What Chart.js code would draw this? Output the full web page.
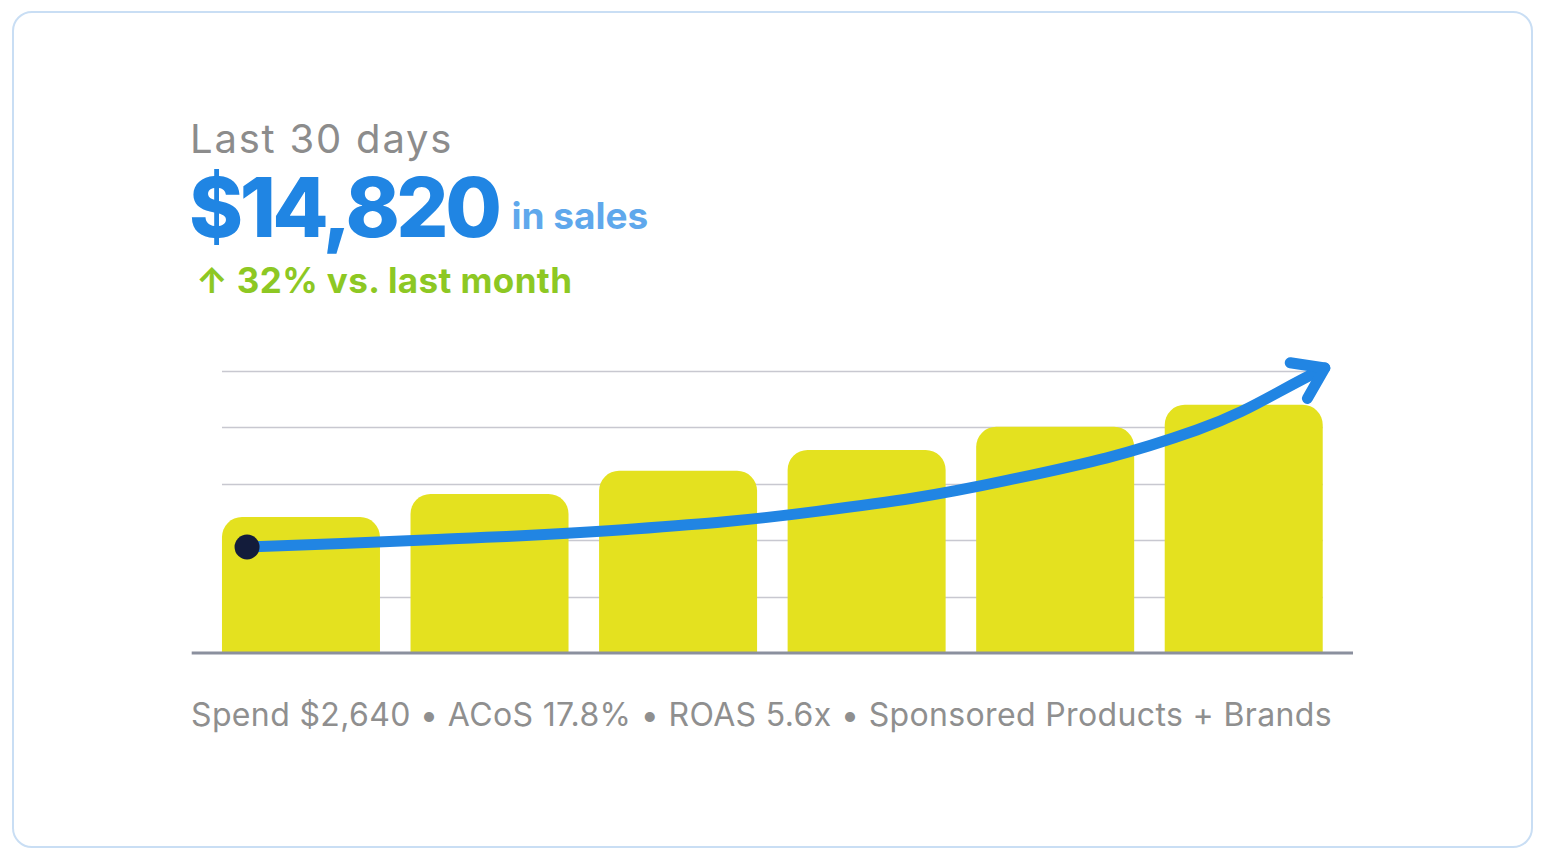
<!DOCTYPE html>
<html>
<head>
<meta charset="utf-8">
<script src="https://cdn.jsdelivr.net/npm/chart.js@4.4.1/dist/chart.umd.min.js"></script>
<style>
  html, body { margin: 0; padding: 0; background: #fff; }
  body { width: 1545px; height: 858px; position: relative; overflow: hidden; font-family: "Inter", "Noto Sans", sans-serif; }
  .card { position: absolute; left: 12px; top: 11px; width: 1517px; height: 833px; border: 2px solid #c9def4; border-radius: 20px; }
  .txt { position: absolute; line-height: 1; white-space: nowrap; }
  #period { left: 190px; top: 119px; font-size: 40px; font-weight: 400; color: #8c8c8c; letter-spacing: 1.8px; }
  #total { left: 189px; top: 167px; font-size: 82px; font-weight: 800; color: #2085e3; letter-spacing: -3.5px; }
  #total span { position: relative; top: -8px; font-size: 37px; font-weight: 700; color: #5fa8ec; letter-spacing: 0; margin-left: 13px; }
  #delta { left: 196px; top: 263px; font-size: 35px; font-weight: 700; color: #8dc823; letter-spacing: 0.4px; }
  #footer { left: 191px; top: 699px; font-size: 32px; font-weight: 400; color: #8f8f8f; letter-spacing: 0.36px; }
  .chartBox { position: absolute; left: 180px; top: 330px; width: 1200px; height: 360px; }
  #trendBox { pointer-events: none; }
</style>
</head>
<body>
<div class="card"></div>
<div class="txt" id="period">Last 30 days</div>
<div class="txt" id="total">$14,820<span>in sales</span></div>
<div class="txt" id="delta">↑ 32% vs. last month</div>
<div class="txt" id="footer">Spend $2,640 • ACoS 17.8% • ROAS 5.6x • Sponsored Products + Brands</div>
<div class="chartBox" id="barBox"><canvas id="salesChart"></canvas></div>
<div class="chartBox" id="trendBox"><canvas id="trendChart"></canvas></div>

<script>
// weekly sales bars (dollars)
const weeks = ["Week 1", "Week 2", "Week 3", "Week 4", "Week 5", "Week 6"];
const weeklySales = [2410, 2820, 3230, 3600, 4010, 4400];

// trend arrow, x in bar units (0 = centre of first bar)
const trendX = [-0.286, 0.721, 1.729, 2.736, 3.743, 4.751, 5.430];
const trendY = [1879, 2012, 2190, 2511, 3059, 3954, 5053];

const yMax = 5000;
const yStep = 1000;

// both charts share the same plot box so the arrow sits on the bars
const sharedPadding = { left: 26.7, right: 42, top: 41, bottom: 37 };

// grid lines behind the bars, only as wide as the bars
const gridPlugin = {
    id: "barGrid",
    beforeDatasetsDraw(chart) {
        const bars = chart.getDatasetMeta(0).data;
        if (!bars.length) return;
        const first = bars[0], last = bars[bars.length - 1];
        const left = first.x - first.width / 2;
        const right = last.x + last.width / 2;
        const y = chart.scales.y;
        const ctx = chart.ctx;
        ctx.save();
        ctx.strokeStyle = "#c8c8d0";
        ctx.lineWidth = 1.5;
        y.ticks.forEach(t => {
            if (t.value <= 0) return;
            const py = Math.round(y.getPixelForValue(t.value)) + 0.5;
            ctx.beginPath();
            ctx.moveTo(left, py);
            ctx.lineTo(right, py);
            ctx.stroke();
        });
        ctx.restore();
    },
    afterDatasetsDraw(chart) {
        // base line, a bit wider than the plot
        const ctx = chart.ctx;
        const area = chart.chartArea;
        const y0 = chart.scales.y.getPixelForValue(0);
        ctx.save();
        ctx.strokeStyle = "#8b909e";
        ctx.lineWidth = 3;
        ctx.beginPath();
        ctx.moveTo(area.left - 15, y0);
        ctx.lineTo(area.right + 15, y0);
        ctx.stroke();
        ctx.restore();
    }
};

// arrow head at the end of the trend line
const arrowPlugin = {
    id: "trendArrow",
    afterDatasetsDraw(chart) {
        const pts = chart.getDatasetMeta(0).data;
        if (pts.length < 2) return;
        const tip = pts[pts.length - 1];
        const prev = pts[pts.length - 2];
        let ang = Math.atan2(tip.y - prev.y, tip.x - prev.x);
        if (tip.cp1x !== undefined && (tip.cp1x !== tip.x || tip.cp1y !== tip.y)) {
            ang = Math.atan2(tip.y - tip.cp1y, tip.x - tip.cp1x);
        }
        const len = 35, spread = 0.6;
        const ctx = chart.ctx;
        ctx.save();
        ctx.strokeStyle = "#2185e3";
        ctx.lineWidth = 11;
        ctx.lineCap = "round";
        ctx.lineJoin = "round";
        ctx.beginPath();
        ctx.moveTo(tip.x - len * Math.cos(ang - spread), tip.y - len * Math.sin(ang - spread));
        ctx.lineTo(tip.x, tip.y);
        ctx.lineTo(tip.x - len * Math.cos(ang + spread), tip.y - len * Math.sin(ang + spread));
        ctx.stroke();
        ctx.restore();
    }
};

const salesChart = new Chart(document.getElementById("salesChart").getContext("2d"), {
    type: "bar",
    data: {
        labels: weeks,
        datasets: [{
            label: "Sales",
            data: weeklySales,
            backgroundColor: "#e4e11f",
            borderRadius: 20,
            borderSkipped: "bottom",
            barPercentage: 1,
            categoryPercentage: 0.838
        }]
    },
    options: {
        responsive: true,
        maintainAspectRatio: false,
        animation: false,
        layout: { padding: sharedPadding },
        plugins: {
            legend: { display: false },
            tooltip: { enabled: false }
        },
        scales: {
            x: { display: false },
            y: { display: false, min: 0, max: yMax, ticks: { stepSize: yStep } }
        }
    },
    plugins: [gridPlugin]
});

const trendChart = new Chart(document.getElementById("trendChart").getContext("2d"), {
    type: "line",
    data: {
        datasets: [{
            label: "Trend",
            data: trendX.map((x, i) => ({ x: x, y: trendY[i] })),
            borderColor: "#2185e3",
            borderWidth: 11,
            borderCapStyle: "round",
            tension: 0.4,
            pointRadius: c => c.dataIndex === 0 ? 12.5 : 0,
            pointHoverRadius: c => c.dataIndex === 0 ? 12.5 : 0,
            pointBackgroundColor: "#131c3b",
            pointBorderWidth: 0,
            clip: false
        }]
    },
    options: {
        responsive: true,
        maintainAspectRatio: false,
        animation: false,
        events: [],
        layout: { padding: sharedPadding },
        plugins: {
            legend: { display: false },
            tooltip: { enabled: false }
        },
        scales: {
            x: { type: "linear", display: false, min: -0.5, max: weeks.length - 0.5 },
            y: { display: false, min: 0, max: yMax }
        }
    },
    plugins: [arrowPlugin]
});
</script>
</body>
</html>
